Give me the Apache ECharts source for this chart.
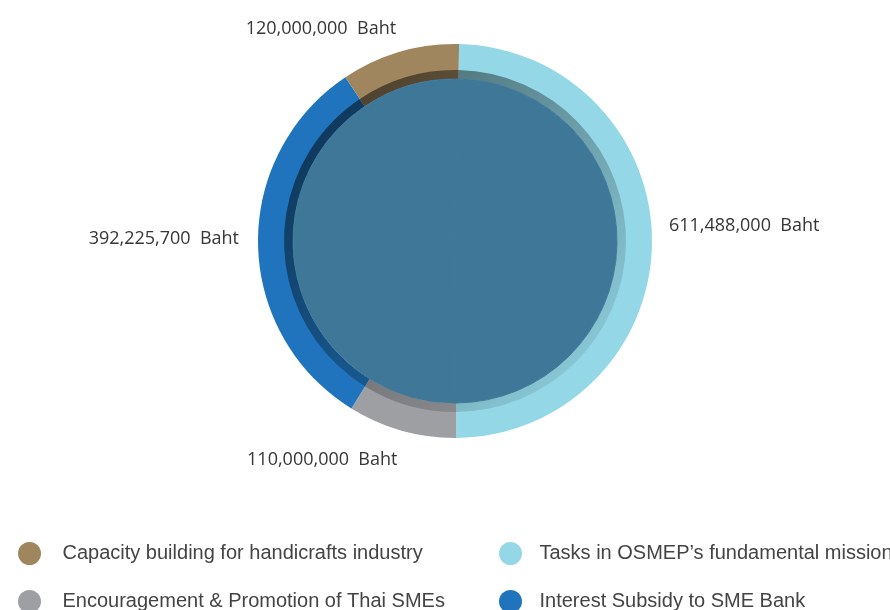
<!DOCTYPE html>
<html>
<head>
<meta charset="utf-8">
<style>
  html, body { margin: 0; padding: 0; background: #ffffff; }
  #chart { width: 890px; height: 610px; }
</style>
<script src="https://cdn.jsdelivr.net/npm/echarts@6/dist/echarts.min.js"></script>
</head>
<body>
<div id="chart"></div>
<script>
// ---- data ----
var categories = [
  "Tasks in OSMEP\u2019s fundamental mission",
  "Encouragement & Promotion of Thai SMEs",
  "Interest Subsidy to SME Bank",
  "Capacity building for handicrafts industry"
];
var values = [611488000, 110000000, 392225700, 120000000];
var colors = ["#94d8e7", "#9e9fa3", "#1f74bd", "#a0865e"];
// legend grid: [row][col]
var legendRows = [
  ["Capacity building for handicrafts industry", "Tasks in OSMEP\u2019s fundamental mission"],
  ["Encouragement & Promotion of Thai SMEs", "Interest Subsidy to SME Bank"]
];
var unit = "Baht";

// ---- layout ----
var cx = 455, cy = 241;
var rOuter = 197, rBand = 171, rDisc = 162;
var labelNudge = [
  { dx: -15, dy: -17 },
  { dx: 8, dy: 3 },
  { dx: 13, dy: -6 },
  { dx: 9, dy: 3 }
];
var legendColX = [18, 499];
var legendTextPad = [16, 12];
var legendRowTop = [542, 590];

var chart = echarts.init(document.getElementById('chart'), null, { renderer: 'canvas' });

var ringData = categories.map(function (name, i) {
  return { name: name, value: values[i], itemStyle: { color: colors[i] } };
});
var shadeGrad = {
  type: 'linear', global: true,
  x: cx - 118, y: cy - 118, x2: cx + 118, y2: cy + 118,
  colorStops: [
    { offset: 0, color: 'rgba(0,0,0,0.50)' },
    { offset: 0.5, color: 'rgba(0,0,0,0.28)' },
    { offset: 1, color: 'rgba(0,0,0,0.09)' }
  ]
};
var shadeData = categories.map(function (name, i) {
  return { name: name, value: values[i], itemStyle: { color: shadeGrad } };
});
var discData = categories.map(function (name, i) {
  return { name: name, value: values[i], itemStyle: { color: '#3f7799', borderColor: '#3f7799', borderWidth: 1 } };
});

function fmt(v) {
  return v.toLocaleString('en-US') + '  ' + unit;
}

var legends = [];
legendRows.forEach(function (row, ri) {
  row.forEach(function (name, ci) {
    legends.push({
      orient: 'horizontal',
      icon: 'circle',
      left: legendColX[ci],
      top: legendRowTop[ri],
      padding: 0,
      itemWidth: 24,
      itemHeight: 23,
      selectedMode: false,
      data: [name],
      textStyle: {
        fontFamily: 'Liberation Sans, Arial, sans-serif',
        fontSize: 20,
        color: '#444444',
        padding: [0, 0, 0, legendTextPad[ci]]
      }
    });
  });
});

var option = {
  backgroundColor: '#ffffff',
  animation: false,
  legend: legends,
  series: [
    {
      type: 'pie',
      name: 'ring',
      center: [cx, cy],
      radius: [rDisc, rOuter],
      startAngle: 88.8,
      clockwise: true,
      avoidLabelOverlap: false,
      silent: true,
      data: ringData,
      label: {
        show: true,
        position: 'outside',
        formatter: function (p) { return fmt(p.value); },
        fontFamily: 'Open Sans, Noto Sans, sans-serif',
        fontSize: 18,
        color: '#363636'
      },
      labelLine: { show: false, length: 27, length2: 0 },
      labelLayout: function (p) { return labelNudge[p.dataIndex]; },
      emphasis: { disabled: true }
    },
    {
      type: 'pie',
      name: 'shade',
      center: [cx, cy],
      radius: [rDisc, rBand],
      startAngle: 88.8,
      clockwise: true,
      silent: true,
      data: shadeData,
      label: { show: false },
      labelLine: { show: false },
      emphasis: { disabled: true }
    },
    {
      type: 'pie',
      name: 'disc',
      center: [cx, cy],
      radius: [0, rDisc],
      startAngle: 88.8,
      clockwise: true,
      silent: true,
      data: discData,
      label: { show: false },
      labelLine: { show: false },
      emphasis: { disabled: true }
    }
  ]
};

chart.setOption(option);
</script>
</body>
</html>
